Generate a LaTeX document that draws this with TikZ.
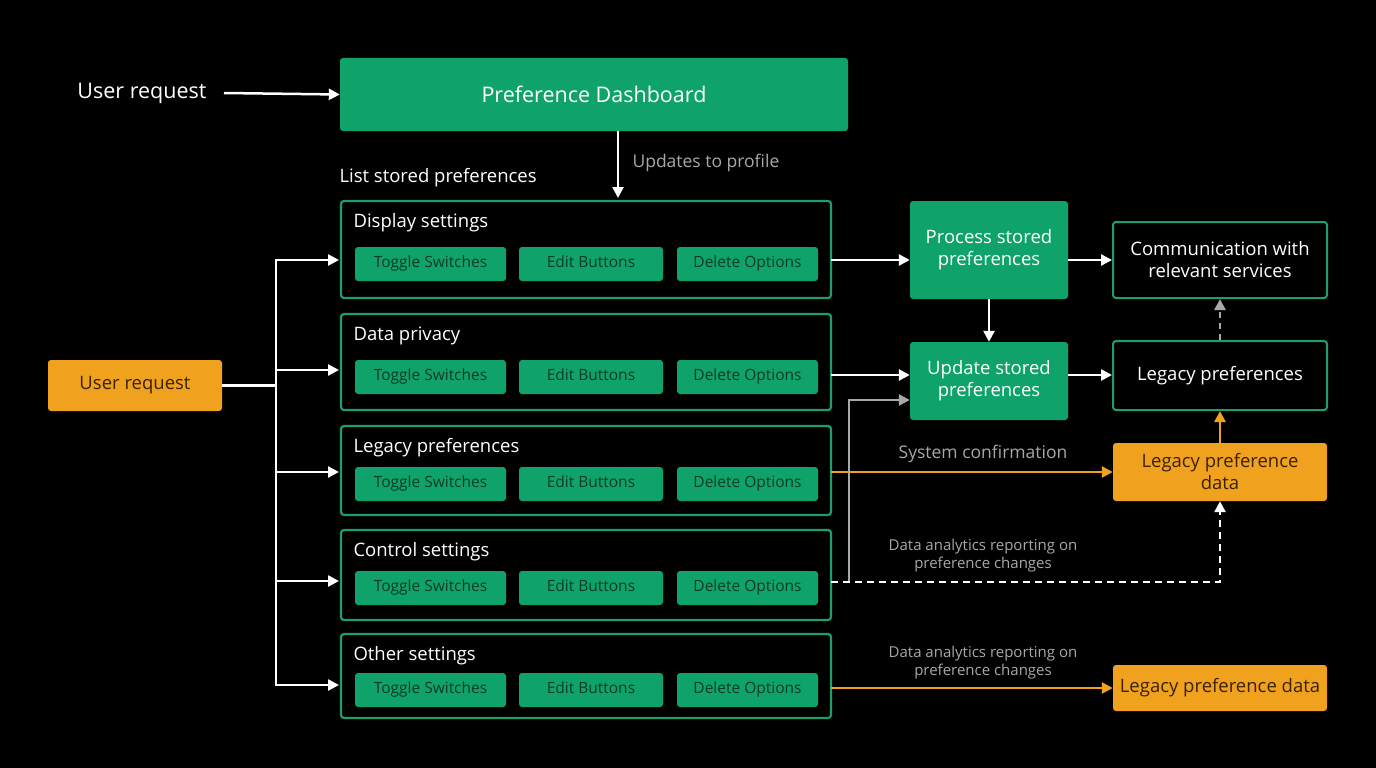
\documentclass[tikz,border=0pt]{standalone}
\usepackage{fontspec}
\setmainfont{Open Sans}
\usetikzlibrary{arrows.meta}
\definecolor{gfill}{HTML}{0FA36B}
\definecolor{gline}{HTML}{1E9E6B}
\definecolor{ofill}{HTML}{F0A21E}
\definecolor{gtext}{HTML}{0B3A28}
\definecolor{otext}{HTML}{3A2200}
\definecolor{lbl}{HTML}{A8A8A8}
\begin{document}
\begin{tikzpicture}[x=1pt,y=-1pt,
 box/.style={rounded corners=3pt,inner sep=0pt,align=center},
 gbox/.style={box,fill=gfill,text=white},
 obox/.style={box,fill=ofill,text=otext},
 kbox/.style={box,draw=gline,line width=2pt,fill=black,text=white},
 btn/.style={box,fill=gfill,text=gtext,font=\fontsize{15.5}{17}\selectfont,text height=11pt,text depth=3.5pt},
 grp/.style={rounded corners=3pt,draw=gline,line width=2.2pt},
 arr/.style={draw=white,line width=2.5pt,-{Triangle[length=11pt,width=11pt]}},
 oarr/.style={draw=ofill,line width=2.5pt,-{Triangle[length=11pt,width=11pt]}},
 garr/.style={draw=lbl,line width=2.5pt,-{Triangle[length=11pt,width=11pt]}},
 lab/.style={text=lbl,font=\fontsize{17.5}{20}\selectfont},
 slab/.style={text=lbl,font=\fontsize{15}{18}\selectfont,align=center},
 big/.style={font=\fontsize{18.5}{22}\selectfont}]
\fill[black] (0,0) rectangle (1376,768);
\useasboundingbox (0,0) rectangle (1376,768);
\node[text=white,font=\fontsize{21.5}{24}\selectfont] (ur1) at (142,93) {User request};
\node[gbox,minimum width=508pt,minimum height=73pt,font=\fontsize{21.5}{24}\selectfont] (dash) at (594,94.5) {Preference Dashboard};
\draw[arr] (224,93) -- (dash.west);
\coordinate (dtop) at (618,198);
\draw[arr] (618,131) -- (dtop);
\node[lab,anchor=west] (upd) at (629,163) {Updates to profile};
\node[text=white,anchor=west,big] (lsp) at (336,178) {List stored preferences};
\foreach \n/\t/\b/\title/\by in {g1/201/298/Display settings/264,g2/314/410/Data privacy/377,g3/426/515/Legacy preferences/484,g4/530/620/Control settings/588,g5/634/718/Other settings/690}{
 \draw[grp] (341,\t) rectangle (831,\b);
 \node[text=white,anchor=west,big] at (350,\t+22) {\title};
 \node[btn,minimum width=151pt,minimum height=34pt] at (430.5,\by) {Toggle Switches};
 \node[btn,minimum width=144pt,minimum height=34pt] at (591,\by) {Edit Buttons};
 \node[btn,minimum width=141pt,minimum height=34pt] at (747.5,\by) {Delete Options};
}
\node[obox,minimum width=174pt,minimum height=51pt,big] (ur2) at (135,385.5) {User request};
\draw[draw=white,line width=2.5pt] (ur2.east) -- (276,385.5);
\draw[draw=white,line width=2.5pt] (276,260) -- (276,685);
\foreach \y in {260,370,472,581,685}{\draw[arr] (275,\y) -- (339,\y);}
\node[gbox,minimum width=158pt,minimum height=98pt,big] (proc) at (989,250) {Process stored\\preferences};
\node[gbox,minimum width=158pt,minimum height=78pt,big] (updn) at (989,381) {Update stored\\preferences};
\node[kbox,minimum width=214pt,minimum height=76pt,big] (comm) at (1220,260) {Communication with\\relevant services};
\node[kbox,minimum width=214pt,minimum height=69pt,big] (legp) at (1220,375.5) {Legacy preferences};
\node[obox,minimum width=214pt,minimum height=58pt,big] (legd) at (1220,472) {Legacy preference\\data};
\node[obox,minimum width=214pt,minimum height=46pt,big] (legd2) at (1220,688) {Legacy preference data};
\draw[arr] (831,260) -- (proc.west|-0,260);
\draw[arr] (proc.east|-0,260) -- (comm.west|-0,260);
\draw[arr] (proc.south) -- (updn.north);
\draw[arr] (831,375) -- (updn.west|-0,375);
\draw[arr] (updn.east|-0,375) -- (legp.west|-0,375);
\draw[oarr] (legd.north) -- (legp.south);
\draw[garr,dash pattern=on 6pt off 5pt] (legp.north) -- (comm.south);
\draw[oarr] (831,472) -- (legd.west|-0,472);
\node[lab] (sc) at (983,454) {System confirmation};
\draw[garr] (849,582) -- (849,400) -- (updn.west|-0,400);
\draw[arr,dash pattern=on 7pt off 5pt] (831,582) -- (1220,582) -- (legd.south);
\node[slab] (da1) at (983,556) {Data analytics reporting on\\preference changes};
\draw[oarr] (831,688) -- (legd2.west);
\node[slab] (da2) at (983,663) {Data analytics reporting on\\preference changes};
\end{tikzpicture}
\end{document}
